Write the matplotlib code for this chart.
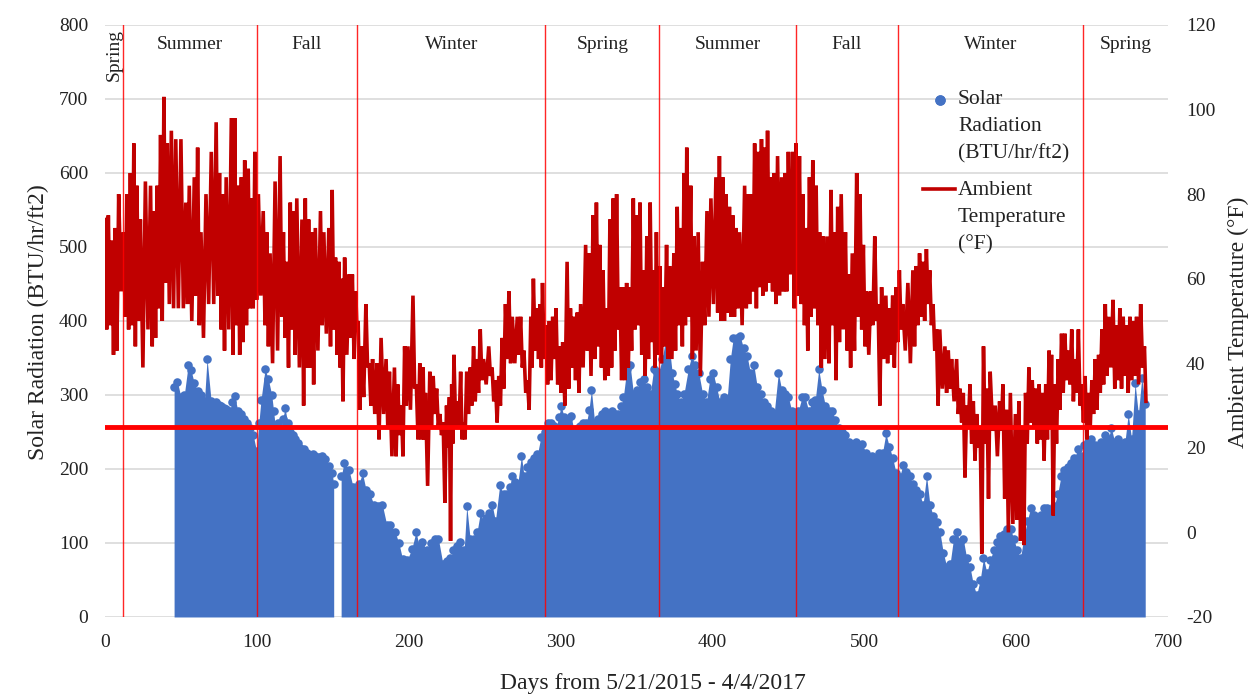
import numpy as np
import matplotlib
matplotlib.use("Agg")
import matplotlib.pyplot as plt
from matplotlib.lines import Line2D

plt.rcParams["font.family"] = ["Liberation Serif", "DejaVu Serif"]
plt.rcParams["axes.unicode_minus"] = False

# ---- ambient temperature: sampled daily highs / lows (°F) ----
temp_day = [
    0, 2.2, 4.5, 6.7, 9, 12.2, 14.4, 16.7, 19, 21, 23.3, 26.6, 30, 32.2, 34.4, 36.6, 38.8, 41, 43.7, 46.6,
    50, 53.2, 55.5, 58.8, 61, 63.2, 66.5, 70, 73.2, 75.4, 77.6, 79.8, 83.2, 85.4, 87.6, 89.8, 92, 94.3, 96.5, 98.7,
    101, 104.2, 106.5, 108.7, 112, 115.3, 117.5, 119.7, 122, 124.1, 126.3, 129.7, 131.9, 134.1, 136.3, 138.5, 141.9, 144.1, 147.4, 149.6,
    151.8, 154, 155.6, 157.8, 160.7, 162.9, 165.1, 166.7, 168.9, 171.8, 174, 176.2, 179.1, 181.8, 185.1, 187.3, 190.6, 192.8, 195.1, 197.3,
    199.5, 202.8, 205, 207.3, 209.5, 211, 213.9, 216.1, 218.4, 220.5, 222.7, 224.9, 226.8, 228.3, 229.8, 232, 234.2, 236, 238.2, 240.5,
    242.7, 244.9, 247.1, 249.3, 252.7, 254.9, 257.1, 259.3, 261.5, 263.7, 266, 268.2, 271.5, 273.7, 275.9, 278.2, 280.4, 282.1, 284.4, 286.6,
    288.1, 290.3, 292.6, 294.8, 297, 299.2, 301.4, 304.3, 306.5, 308.7, 311, 313.2, 316.5, 318.7, 321.4, 323.6, 325.8, 328, 330.3, 332.5,
    334.7, 336.9, 339.1, 341.3, 343.5, 345.7, 347.9, 350.1, 352.3, 354.6, 356.8, 359, 361.2, 363.1, 365.3, 367.5, 369.8, 372, 374.6, 376.8,
    379.1, 381.3, 383.1, 385.7, 387.9, 390.6, 393.5, 396.4, 399, 402.3, 404.6, 406.8, 409, 411.2, 413.4, 415.6, 417.9, 421.2, 423.4, 425.6,
    427.8, 430.1, 432.3, 434.1, 436.3, 438.5, 440.7, 442.9, 445.6, 447.8, 450, 452.8, 455, 457.3, 459.5, 461.7, 463.9, 466.1, 468.3, 470.6,
    472.8, 475.4, 478.1, 480.3, 482.5, 484.8, 487.6, 489.9, 492.1, 495, 497.2, 499.4, 501.6, 504.3, 506.9, 509.1, 511.4, 514.2, 516.5, 518.7,
    520.9, 523.1, 525.3, 528.7, 532, 534.2, 536.4, 538.6, 540.9, 543.1, 545.3, 547.5, 549.7, 553.1, 555.3, 557.5, 560.8, 563, 565.2, 567.4,
    569.6, 571.8, 574, 576.3, 578.5, 580.7, 582.9, 586.2, 589.1, 591.3, 593.6, 596.2, 599.5, 601.8, 604, 606.2, 608.4, 610.6, 612.8, 615.1,
    617.3, 619.5, 621.7, 623.3, 625.5, 627.7, 629.9, 632.1, 634.3, 636.6, 638.8, 641, 643.2, 645.4, 647.7, 649.9, 652.1, 654.3, 656.5, 658.7,
    661, 663.8, 666.1, 668.3, 670.5, 672.7, 674.9, 677.1, 679.3, 682, 684.5,
]
temp_high = [
    74, 75, 69, 72, 80, 71, 80, 85, 92, 82, 74, 83, 82, 76, 82, 94, 103, 92, 95, 93,
    93, 78, 82, 84, 91, 71, 80, 90, 97, 85, 80, 84, 98, 98, 82, 84, 88, 86, 79, 90,
    80, 76, 71, 66, 83, 89, 71, 64, 78, 76, 79, 74, 79, 74, 71, 72, 76, 71, 72, 81,
    65, 64, 60, 65, 61, 61, 57, 50, 44, 54, 40, 41, 40, 46, 41, 38, 39, 35, 30, 44,
    44, 56, 35, 40, 39, 33, 38, 37, 34, 28, 26, 30, 32, 35, 42, 31, 38, 26, 38, 39,
    44, 41, 48, 41, 44, 39, 36, 37, 46, 54, 57, 51, 51, 51, 43, 36, 51, 60, 53, 54,
    59, 49, 50, 51, 53, 44, 45, 64, 53, 51, 52, 54, 68, 66, 75, 78, 68, 62, 53, 74,
    79, 80, 58, 58, 59, 58, 79, 75, 78, 62, 70, 78, 62, 71, 63, 58, 68, 63, 66, 77,
    72, 85, 91, 82, 70, 71, 64, 76, 79, 84, 89, 84, 80, 77, 75, 72, 71, 82, 80, 80,
    92, 90, 93, 91, 95, 84, 85, 89, 84, 85, 90, 90, 92, 89, 80, 72, 84, 88, 82, 71,
    70, 70, 81, 71, 77, 80, 71, 61, 66, 85, 80, 68, 57, 57, 70, 54, 58, 56, 53, 56,
    58, 62, 54, 59, 62, 63, 66, 64, 67, 62, 54, 48, 48, 44, 43, 41, 41, 34, 33, 30,
    35, 31, 28, 25, 44, 34, 38, 30, 31, 35, 29, 33, 28, 31, 25, 33, 39, 36, 34, 35,
    33, 35, 43, 42, 35, 41, 47, 47, 43, 48, 41, 48, 35, 37, 33, 36, 41, 42, 48, 54,
    51, 55, 49, 53, 51, 49, 51, 50, 51, 54, 44,
]
temp_low = [
    48, 49, 42, 43, 57, 51, 48, 49, 44, 50, 39, 48, 44, 46, 53, 50, 59, 54, 53, 53,
    53, 54, 50, 56, 49, 46, 54, 54, 56, 48, 43, 48, 42, 49, 42, 45, 49, 53, 53, 55,
    56, 49, 44, 40, 43, 51, 46, 39, 48, 42, 39, 30, 39, 39, 35, 43, 49, 47, 44, 48,
    42, 39, 31, 42, 46, 41, 48, 29, 32, 39, 30, 28, 22, 28, 25, 18, 18, 23, 18, 30,
    29, 34, 22, 22, 22, 11, 25, 28, 25, 23, 7, 20, -2, 21, 25, 25, 22, 22, 28, 30,
    31, 33, 36, 35, 37, 31, 26, 30, 34, 41, 40, 40, 42, 39, 33, 29, 39, 43, 41, 39,
    41, 35, 36, 41, 35, 33, 30, 34, 39, 36, 33, 39, 43, 37, 41, 44, 39, 36, 37, 39,
    43, 48, 36, 36, 39, 43, 48, 49, 42, 37, 41, 45, 39, 42, 40, 44, 41, 41, 43, 49,
    44, 49, 51, 41, 43, 37, 49, 51, 54, 52, 50, 50, 52, 51, 51, 53, 49, 53, 54, 57,
    53, 58, 56, 57, 59, 57, 54, 56, 57, 57, 61, 53, 56, 54, 49, 43, 51, 53, 49, 39,
    41, 40, 49, 36, 45, 48, 43, 39, 43, 51, 48, 44, 42, 49, 50, 30, 41, 40, 42, 39,
    45, 48, 43, 40, 44, 49, 51, 50, 54, 49, 43, 30, 34, 33, 34, 31, 28, 26, 13, 25,
    21, 17, 20, -5, 21, 8, 24, 18, 24, 8, 0, 2, 3, -2, -3, 21, 26, 25, 21, 22,
    17, 22, 25, 4, 21, 29, 33, 36, 35, 31, 33, 30, 26, 22, 25, 28, 29, 33, 35, 37,
    39, 34, 36, 34, 37, 33, 36, 37, 35, 39, 31,
]

# ---- solar radiation: daily peak readings (BTU/hr/ft2) ----
solar_day = [
    45.5, 47.7, 50, 52.2, 54.8, 56.6, 58.8, 61, 63.2, 65.5, 67.2, 69.9, 71.5, 73.2, 75, 76.5, 78.2, 79.8, 82, 83.7,
    85.4, 87.6, 89.8, 91.5, 93.2, 95.4, 97.6, 99.8, 101.3, 102.7, 105.4, 107.6, 109.8, 111, 112, 113.6, 115.3, 117, 118.6, 120.3,
    121.9, 123.5, 125.2, 126.9, 128.6, 130.8, 133, 135.2, 136.8, 138.5, 140.7, 143, 145.2, 147.4, 149.6, 150.6,
    155.5, 157.4, 160.6, 163.5, 165.3, 167, 169.6, 172, 174.5, 177, 180, 182.6, 185.6, 188, 191, 193.5, 196, 199, 202, 204.8,
    207, 209, 212, 214.5, 217, 219.6, 222.5, 225.5, 227.5, 229.4, 231.6, 233.8, 236.5, 238.2, 240.5, 242.7, 245, 247.1, 249.3, 251,
    252.7, 254.9, 257.1, 259.9, 262.6, 264.8, 266.5, 268.2, 270, 271.5, 274.2, 276, 278.2, 280.4, 282.6, 284.8, 287, 289.9, 291.5, 293.7,
    295.4, 297, 298.7, 300.3, 302.5, 304.7, 306.9, 309.2, 311.4, 313, 314.7, 317, 318.7, 320.3, 322.5, 324.8, 327, 329.2, 331.5, 333.7,
    336, 338, 339.7, 341.3, 343.6, 345.8, 348, 350.2, 352.5, 354.7, 357, 359.1, 361.3, 362.9, 364.5, 367, 369, 371.4, 373.5, 375.2,
    376.8, 379.1, 381.3, 384.1, 386.3, 388.7, 391, 393.5, 396, 398.2, 400.4, 402.7, 405, 407.3, 409.5, 411.8, 413.7, 416, 418.2, 420.5,
    422.8, 425, 427.3, 429.5, 431.7, 434, 436.2, 438.4, 440.6, 443.4, 445.6, 447.8, 450, 452.2, 454.4, 456.6, 459, 461, 463.3, 465.5,
    467.7, 470, 472.2, 474.4, 476.6, 478.9, 481, 483.2, 485.4, 487.6, 489.8, 492, 494.3, 496.5, 498.7, 501, 503.2, 505.4, 507.7, 509.9,
    512, 514.2, 516.5, 518.7, 521, 523.2, 525.4, 527.7, 529.9, 532, 534.3, 536.5, 538.7, 541, 543.2, 545.4, 547.6, 549.8, 552, 554.3,
    556.5, 558.7, 561, 563, 565.2, 567.4, 569.6, 571.8, 574, 576.3, 578.5, 580.7, 582.9, 585.1, 587.4, 589.6, 591.8, 594, 596.3, 598.5,
    600.7, 602.9, 605.1, 607.3, 609.5, 611.8, 614, 616.2, 618.4, 620.6, 622.8, 625, 627.3, 629.5, 631.7, 633.9, 636.1, 638.4, 640.6, 642.8,
    645, 647.2, 649.4, 651.6, 653.9, 656, 658.3, 660.5, 662.7, 665, 667.2, 669.4, 671.6, 673.8, 676, 678.3, 680.5, 682.7, 685,
]
solar_peak = [
    311, 318, 297, 300, 341, 334, 316, 306, 300, 292, 349, 292, 288, 290, 287, 285, 283, 281, 278, 290,
    298, 278, 274, 268, 262, 255, 246, 224, 262, 293, 335, 321, 300, 279, 260, 262, 250, 268, 282, 262,
    250, 246, 241, 235, 229, 227, 222, 218, 220, 218, 216, 218, 213, 204, 194, 180,
    190, 208, 199, 175, 172, 180, 194, 171, 166, 152, 150, 152, 124, 124, 115, 100, 78, 77, 92, 115,
    95, 101, 90, 100, 105, 105, 72, 75, 80, 91, 96, 101, 90, 150, 105, 105, 115, 140, 129, 134,
    140, 152, 130, 178, 166, 166, 175, 190, 182, 175, 218, 190, 203, 210, 215, 220, 243, 250, 262, 262,
    258, 255, 270, 285, 270, 268, 272, 248, 255, 258, 262, 262, 280, 307, 262, 268, 274, 279, 270, 279,
    274, 274, 285, 297, 335, 340, 302, 307, 318, 321, 311, 302, 335, 332, 330, 349, 374, 370, 330, 315,
    302, 290, 302, 335, 353, 340, 330, 302, 290, 321, 330, 311, 290, 297, 290, 349, 377, 377, 380, 363,
    353, 330, 340, 311, 302, 290, 285, 279, 274, 330, 307, 302, 297, 279, 274, 279, 297, 297, 279, 290,
    293, 335, 307, 285, 279, 279, 266, 255, 250, 246, 236, 229, 236, 232, 234, 222, 213, 218, 213, 222,
    222, 248, 230, 215, 194, 189, 205, 196, 190, 180, 171, 166, 152, 191, 152, 136, 129, 115, 87, 68,
    72, 105, 115, 101, 105, 80, 68, 44, 30, 50, 80, 60, 77, 91, 101, 110, 112, 119, 119, 105,
    90, 80, 108, 130, 147, 138, 133, 138, 147, 147, 143, 150, 166, 190, 198, 203, 208, 215, 227, 218,
    232, 236, 241, 232, 227, 236, 246, 241, 255, 236, 241, 232, 236, 274, 241, 316, 274, 323, 288,
]
sensor_outage = (151, 155)   # days with no radiation logging

season_bounds = [12, 100, 166, 290, 365, 455, 522, 644]
season_names = ["Spring", "Summer", "Fall", "Winter", "Spring", "Summer", "Fall", "Winter", "Spring"]
reference_temp = 25          # °F

x_ticks = list(range(0, 701, 100))
solar_ticks = list(range(0, 801, 100))
temp_ticks = list(range(-20, 121, 20))

BLUE = "#4472C4"
DARK_RED = "#C00000"
RED = "#FF0000"
INK = "#222222"

fig = plt.figure(figsize=(12.5, 7), dpi=100)
ax = fig.add_axes([0.084, 0.1186, 0.8504, 0.8457])
ax2 = ax.twinx()

ax.set_xlim(0, 700)
ax.set_ylim(0, 800)
ax2.set_ylim(-20, 120)
ax.set_xticks(x_ticks)
ax.set_yticks(solar_ticks)
ax2.set_yticks(temp_ticks)
ax.grid(axis="y", color="#D9D9D9", lw=1.2)
ax.set_axisbelow(True)
for a in (ax, ax2):
    for s in a.spines.values():
        s.set_visible(False)
ax.tick_params(axis="both", length=0, labelsize=14, colors=INK)
ax.tick_params(axis="x", pad=12)
ax.tick_params(axis="y", pad=12)
ax2.tick_params(axis="y", length=0, labelsize=14, colors=INK, pad=13)

# solar radiation cloud
sd = np.asarray(solar_day, float)
sp = np.asarray(solar_peak, float)
for mask in (sd < sensor_outage[0], sd > sensor_outage[1]):
    ax.fill_between(sd[mask], 0, sp[mask], color=BLUE, lw=0, zorder=2)
ax.scatter(sd, sp, s=38, color=BLUE, lw=0, zorder=3)

# ambient temperature: alternate highs and lows through each sampling step
td = np.asarray(temp_day, float)
low_day = np.append((td[:-1] + td[1:]) / 2, td[-1] + 1)
tx = np.empty(2 * len(td))
ty = np.empty(2 * len(td))
tx[0::2], tx[1::2] = td, low_day
ty[0::2], ty[1::2] = temp_high, temp_low
ax2.plot(tx, ty, color=DARK_RED, lw=2.6, solid_joinstyle="miter", zorder=2)

# season boundaries and names
for b in season_bounds:
    ax2.axvline(b, color=RED, lw=1.0, alpha=0.85, zorder=3)
edges = [0] + season_bounds + [700]
for i, name in enumerate(season_names):
    mid = (edges[i] + edges[i + 1]) / 2
    if i == 0:
        ax.text(mid, 760, name, rotation=90, ha="center", va="center", fontsize=14, color=INK, zorder=5)
    else:
        ax.text(mid, 773, name, ha="center", va="center", fontsize=14, color=INK, zorder=5)

ax2.axhline(reference_temp, color=RED, lw=3.5, zorder=4)

fig.text(38 / 1250, 1 - 322 / 700, "Solar Radiation (BTU/hr/ft2)", rotation=90,
         ha="center", va="center", fontsize=17, color=INK)
fig.text(1238 / 1250, 1 - 322 / 700, "Ambient Temperature (°F)", rotation=90,
         ha="center", va="center", fontsize=17, color=INK)
fig.text(653 / 1250, 1 - 683 / 700, "Days from 5/21/2015 - 4/4/2017",
         ha="center", va="center", fontsize=17, color=INK)

# series key: symbol beside the first line of each entry
px = lambda x, y: (x / 1250, 1 - y / 700)
fig.add_artist(Line2D(*zip(px(940, 100), px(940, 100)), marker="o", markersize=6.5,
                      ls="", color=BLUE, transform=fig.transFigure))
fig.add_artist(Line2D(*zip(px(923, 189), px(955, 189)), color=DARK_RED, lw=2.6,
                      transform=fig.transFigure))
for label, (lx, ly) in (("Solar\nRadiation\n(BTU/hr/ft2)", px(958, 127)),
                        ("Ambient\nTemperature\n(°F)", px(958, 218))):
    fig.text(lx, ly, label, ha="left", va="center", fontsize=15.5,
             linespacing=1.58, color=INK)

fig.savefig("out.png", dpi=100)
